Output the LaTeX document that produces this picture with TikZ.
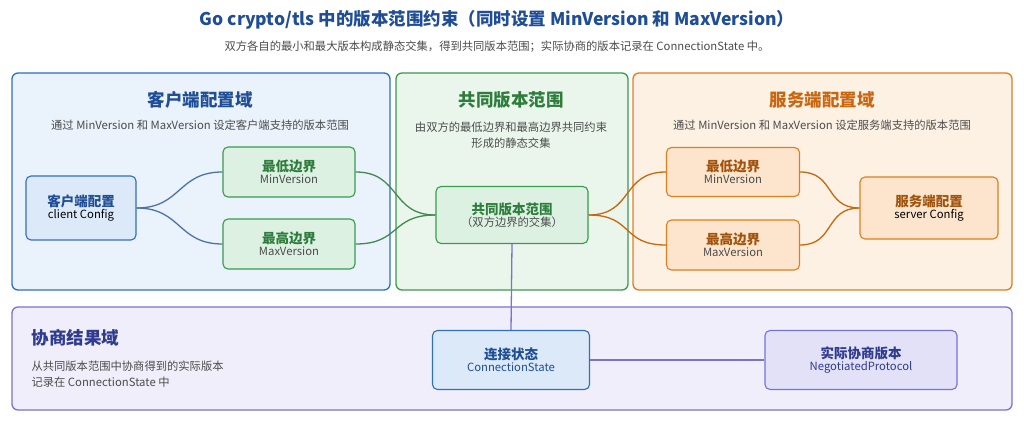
\documentclass[tikz,border=0pt]{standalone}
\usepackage{fontspec}
\setmainfont{Noto Sans CJK SC}
\begin{document}
\begin{tikzpicture}[x=1pt,y=-1pt,
 panel/.style={rounded corners=6pt,line width=1.3pt},
 box/.style={rounded corners=5pt,line width=1.1pt,align=center,inner sep=0pt},
 conn/.style={line width=1.3pt},
 tt/.style={font=\bfseries\fontsize{17.5}{20}\selectfont},
 st/.style={font=\fontsize{11.3}{16}\selectfont,text=black!70,align=center}]
\definecolor{bl}{HTML}{2E6FC0}\definecolor{blf}{HTML}{EAF2FC}\definecolor{blb}{HTML}{DCE9F9}
\definecolor{gr}{HTML}{3A9A4E}\definecolor{grf}{HTML}{EAF6EC}\definecolor{grb}{HTML}{DDF1E3}
\definecolor{or}{HTML}{E07D1F}\definecolor{orf}{HTML}{FDF1E4}\definecolor{orb}{HTML}{FCE5CC}
\definecolor{pu}{HTML}{7A72CF}\definecolor{puf}{HTML}{EFEEFA}\definecolor{pub}{HTML}{E3E1F7}
\definecolor{tb}{HTML}{1F4E96}\definecolor{tg}{HTML}{2E7D3C}\definecolor{to}{HTML}{C9660F}\definecolor{tp}{HTML}{2F3B8F}
\useasboundingbox[fill=white] (0,0) rectangle (1024,427);
\node[font=\bfseries\fontsize{17.5}{20}\selectfont,text=tb] (title) at (497,20) {Go crypto/tls 中的版本范围约束（同时设置 MinVersion 和 MaxVersion）};
\node[st] (sub) at (497,47) {双方各自的最小和最大版本构成静态交集，得到共同版本范围；实际协商的版本记录在 ConnectionState 中。};
% panels
\draw[panel,draw=bl,fill=blf] (12,73) rectangle (390,290);
\draw[panel,draw=gr,fill=grf] (396,73) rectangle (628,290);
\draw[panel,draw=or,fill=orf] (633,73) rectangle (1012,290);
\draw[panel,draw=pu,fill=puf] (12,307) rectangle (1012,410);
\node[tt,text=tb] (lt) at (200,100) {客户端配置域};
\node[st] (ls) at (200,125) {通过 MinVersion 和 MaxVersion 设定客户端支持的版本范围};
\node[tt,text=tg] (mt) at (511,100) {共同版本范围};
\node[st] (ms) at (511,135) {由双方的最低边界和最高边界共同约束\\形成的静态交集};
\node[tt,text=to] (rt) at (822,100) {服务端配置域};
\node[st] (rs) at (822,125) {通过 MinVersion 和 MaxVersion 设定服务端支持的版本范围};
\node[tt,text=tp,anchor=west] (bt) at (28,338) {协商结果域};
\node[st,anchor=north west,align=left] (bs) at (28,357) {从共同版本范围中协商得到的实际版本\\记录在 ConnectionState 中};
% nodes
\node[box,draw=bl,fill=blb,minimum width=110pt,minimum height=64pt] (cc) at (81,208) {{\bfseries\fontsize{13.5}{19}\selectfont\color{tb}客户端配置}\\{\fontsize{11.3}{17}\selectfont client Config}};
\node[box,draw=gr,fill=grb,minimum width=132pt,minimum height=50pt] (cmin) at (289,172) {{\bfseries\fontsize{13.5}{19}\selectfont\color{tg}最低边界}\\{\fontsize{11.3}{17}\selectfont\color{black!70} MinVersion}};
\node[box,draw=gr,fill=grb,minimum width=132pt,minimum height=50pt] (cmax) at (289,244) {{\bfseries\fontsize{13.5}{19}\selectfont\color{tg}最高边界}\\{\fontsize{11.3}{17}\selectfont\color{black!70} MaxVersion}};
\node[box,draw=gr,fill=grb,minimum width=152pt,minimum height=57pt] (mid) at (512,215) {{\bfseries\fontsize{13.5}{19}\selectfont\color{tg}共同版本范围}\\{\fontsize{11.3}{17}\selectfont\color{black!70}（双方边界的交集）}};
\node[box,draw=or,fill=orb,minimum width=133pt,minimum height=49pt] (smin) at (733,172) {{\bfseries\fontsize{13.5}{19}\selectfont\color{to!80!black}最低边界}\\{\fontsize{11.3}{17}\selectfont\color{black!70} MinVersion}};
\node[box,draw=or,fill=orb,minimum width=133pt,minimum height=50pt] (smax) at (733,245) {{\bfseries\fontsize{13.5}{19}\selectfont\color{to!80!black}最高边界}\\{\fontsize{11.3}{17}\selectfont\color{black!70} MaxVersion}};
\node[box,draw=or,fill=orb,minimum width=138pt,minimum height=62pt] (sc) at (929,208) {{\bfseries\fontsize{13.5}{19}\selectfont\color{to!80!black}服务端配置}\\{\fontsize{11.3}{17}\selectfont server Config}};
\node[box,draw=bl,fill=blb,minimum width=157pt,minimum height=59pt] (cs) at (511,360) {{\bfseries\fontsize{13.5}{19}\selectfont\color{tb}连接状态}\\{\fontsize{11.3}{17}\selectfont\color{tb} ConnectionState}};
\node[box,draw=pu,fill=pub,minimum width=192pt,minimum height=59pt] (np) at (861,360) {{\bfseries\fontsize{13.5}{19}\selectfont\color{tp}实际协商版本}\\{\fontsize{11.3}{17}\selectfont\color{tp} NegotiatedProtocol}};
% connectors
\draw[conn,draw=tb!80] (cc.east) .. controls +(45,0) and +(-45,0) .. (cmin.west);
\draw[conn,draw=tb!80] (cc.east) .. controls +(45,0) and +(-45,0) .. (cmax.west);
\draw[conn,draw=tg!90] (cmin.east) .. controls +(45,0) and +(-45,0) .. (mid.west);
\draw[conn,draw=tg!90] (cmax.east) .. controls +(45,0) and +(-45,0) .. (mid.west);
\draw[conn,draw=to] (mid.east) .. controls +(45,0) and +(-45,0) .. (smin.west);
\draw[conn,draw=to] (mid.east) .. controls +(45,0) and +(-45,0) .. (smax.west);
\draw[conn,draw=to] (smin.east) .. controls +(35,0) and +(-35,0) .. (sc.west);
\draw[conn,draw=to] (smax.east) .. controls +(35,0) and +(-35,0) .. (sc.west);
\draw[conn,draw=pu] (mid.south) -- (cs.north);
\draw[conn,draw=pu] (cs.east) -- (np.west);
\end{tikzpicture}
\end{document}
